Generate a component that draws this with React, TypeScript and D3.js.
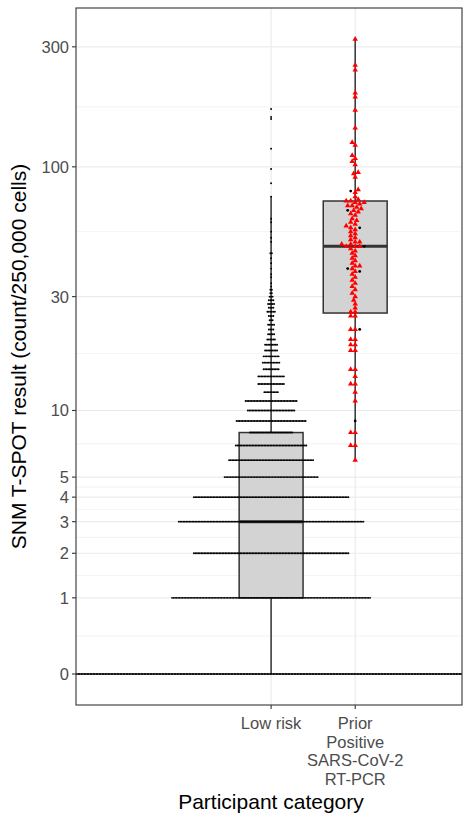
import React from 'react';
import * as d3 from 'd3';

// y breaks shown on a log10(x + 1) axis
const yBreaks = [0, 1, 2, 3, 4, 5, 10, 30, 100, 300];

const categories = ['Low risk', 'Prior\nPositive\nSARS-CoV-2\nRT-PCR'];

// Low risk: dotplot stacks, [value, count]
const lowRiskCounts: [number, number][] = [
  [0, 600], [1, 133], [2, 104], [3, 124], [4, 104], [5, 63], [6, 57], [7, 48], [8, 29],
  [9, 47], [10, 32], [11, 35], [12, 10], [13, 18], [14, 18], [15, 11], [16, 12], [17, 11],
  [18, 9], [19, 9], [20, 6], [21, 5], [22, 4], [23, 5], [24, 3], [25, 4], [26, 6], [27, 4],
  [28, 5], [29, 4], [30, 3], [31, 2], [32, 2], [33, 1], [34, 1], [36, 1], [37, 1], [39, 1],
  [41, 1], [43, 1], [45, 2], [50, 1], [52, 1], [55, 1], [60, 1], [62, 1], [76, 1], [86, 1],
  [98, 1], [118, 1], [155, 1], [158, 1], [170, 1],
];

// Prior positive: individual results
const priorRed = [
  322, 254, 243, 197, 190, 168, 143, 125, 122, 111, 108, 105, 102, 95, 94, 91, 81, 79, 76, 74,
  73, 73, 72, 72, 71, 70, 70, 69, 68, 67, 66, 65, 64, 62, 61, 60, 59, 58, 57, 56, 55, 54, 53,
  52, 51, 50, 50, 49, 49, 48, 48, 48,
  47, 46, 45, 44, 43, 42, 41, 40, 40, 39, 38, 37, 36, 35, 34, 33, 32, 31, 30, 29, 28, 27, 26, 26,
  25, 25, 22, 22, 20, 20, 19, 19, 18, 18, 15, 15, 14, 13, 13, 12, 11, 8, 8, 7, 7, 6,
];
const priorBlack = [80, 67, 57, 48, 39, 38, 22, 9];

// box stats [lower whisker, q1, median, q3, upper whisker]
const boxStats: [number, number, number, number, number][] = [
  [0, 1, 3, 8, 76],
  [6, 25.7, 48, 73, 322],
];

const W = 463, H = 816;
const M = { left: 76, right: 462, top: 8, bottom: 705 };
const tf = (v: number) => Math.log10(v + 1);
const y = d3.scaleLinear().domain([-0.1225, 2.632]).range([M.bottom, M.top]);
const x = d3.scaleLinear().domain([-1.32, 3.27]).range([M.left, M.right]);
const font = '"Liberation Sans", Arial, sans-serif';

function swarm(vals: number[], cx: number, r: number) {
  const placed: { x: number; y: number }[] = [];
  return vals.map(v => {
    const py = y(tf(v));
    for (let k = 0; k < 60; k++) {
      const off = (k % 2 === 0 ? 1 : -1) * Math.ceil(k / 2) * 1.5;
      const px = cx + off;
      if (!placed.some(p => Math.hypot(p.x - px, p.y - py) < r * 2)) {
        placed.push({ x: px, y: py });
        return { x: px, y: py };
      }
    }
    return { x: cx, y: py };
  });
}

export default function App() {
  const minor: number[] = [];
  for (let i = 0; i < yBreaks.length - 1; i++) minor.push((tf(yBreaks[i]) + tf(yBreaks[i + 1])) / 2);

  const dotSpacing = 1.5;
  const lowDots: { x: number; y: number }[] = [];
  lowRiskCounts.forEach(([v, n]) => {
    const cy = y(tf(v));
    for (let i = 0; i < n; i++) lowDots.push({ x: x(1) + (i - (n - 1) / 2) * dotSpacing, y: cy });
  });

  const sortedPrior = [...priorRed.map(v => ({ v, red: true })), ...priorBlack.map(v => ({ v, red: false }))]
    .sort((a, b) => a.v - b.v);
  const positions = swarm(sortedPrior.map(d => d.v), x(2), 1.9);

  const bw = 0.38;
  return (
    <svg width={W} height={H} style={{ position: 'absolute', left: 0, top: 0 }} fontFamily={font}>
      <defs>
        <clipPath id="panel"><rect x={M.left} y={M.top} width={M.right - M.left} height={M.bottom - M.top} /></clipPath>
      </defs>
      <rect width={W} height={H} fill="white" />
      {minor.map((t, i) => (
        <line key={'mi' + i} x1={M.left} x2={M.right} y1={y(t)} y2={y(t)} stroke="#ebebeb" strokeWidth={0.6} />
      ))}
      {yBreaks.map(b => (
        <line key={'ma' + b} x1={M.left} x2={M.right} y1={y(tf(b))} y2={y(tf(b))} stroke="#ebebeb" strokeWidth={1.2} />
      ))}
      {[1, 2].map(c => (
        <line key={'vx' + c} x1={x(c)} x2={x(c)} y1={M.top} y2={M.bottom} stroke="#ebebeb" strokeWidth={1.2} />
      ))}
      <g clipPath="url(#panel)">
        {boxStats.map((s, i) => {
          const c = x(i + 1);
          const x0 = x(i + 1 - bw), x1 = x(i + 1 + bw);
          return (
            <g key={'b' + i} stroke="#333" strokeWidth={1.5}>
              <line x1={c} x2={c} y1={y(tf(s[0]))} y2={y(tf(s[1]))} />
              <line x1={c} x2={c} y1={y(tf(s[3]))} y2={y(tf(s[4]))} />
              <rect x={x0} width={x1 - x0} y={y(tf(s[3]))} height={y(tf(s[1])) - y(tf(s[3]))} fill="#d3d3d3" />
              <line x1={x0} x2={x1} y1={y(tf(s[2]))} y2={y(tf(s[2]))} strokeWidth={3} />
            </g>
          );
        })}
        {lowDots.map((d, i) => <circle key={'l' + i} cx={d.x} cy={d.y} r={0.95} fill="black" />)}
        {sortedPrior.map((d, i) => {
          const p = positions[i];
          return d.red ? (
            <path key={'p' + i} d={d3.symbol(d3.symbolTriangle, 13)()!} transform={`translate(${p.x},${p.y})`} fill="#ff0000" />
          ) : (
            <circle key={'p' + i} cx={p.x} cy={p.y} r={1.4} fill="black" />
          );
        })}
      </g>
      <rect x={M.left} y={M.top} width={M.right - M.left} height={M.bottom - M.top} fill="none" stroke="#333" strokeWidth={1.1} />
      {yBreaks.map(b => (
        <g key={'yt' + b}>
          <line x1={M.left - 4} x2={M.left} y1={y(tf(b))} y2={y(tf(b))} stroke="#333" strokeWidth={1.1} />
          <text x={M.left - 7} y={y(tf(b))} dy="0.36em" textAnchor="end" fontSize={16.5} fill="#4d4d4d">{b}</text>
        </g>
      ))}
      {categories.map((c, i) => (
        <g key={'xt' + i}>
          <line x1={x(i + 1)} x2={x(i + 1)} y1={M.bottom} y2={M.bottom + 4} stroke="#333" strokeWidth={1.1} />
          <text x={x(i + 1)} y={M.bottom + 24} textAnchor="middle" fontSize={16.5} fill="#4d4d4d">
            {c.split('\n').map((l, j) => <tspan key={j} x={x(i + 1)} dy={j === 0 ? 0 : 18.7}>{l}</tspan>)}
          </text>
        </g>
      ))}
      <text x={271} y={809} textAnchor="middle" fontSize={21} fill="black">Participant category</text>
      <text transform={`translate(26,${(M.top + M.bottom) / 2}) rotate(-90)`} textAnchor="middle" fontSize={21} fill="black">
        SNM T-SPOT result (count/250,000 cells)
      </text>
    </svg>
  );
}
